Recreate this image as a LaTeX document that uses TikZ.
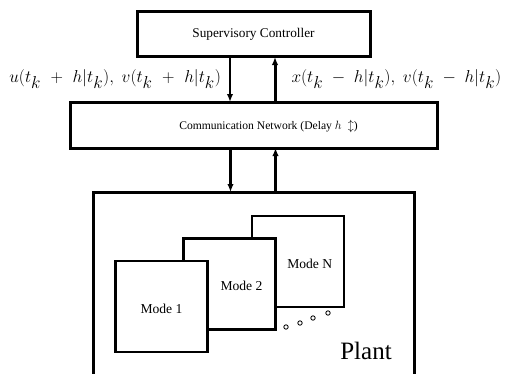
\documentclass[tikz,border=0pt]{standalone}
\usepackage{amsmath}
\usepackage{fontspec}
\setmainfont{Liberation Serif}
\usepackage{tikz}
\usetikzlibrary{arrows.meta,positioning,calc}

\newcommand{\tkk}{t_{\textstyle k}}

\begin{document}
\begin{tikzpicture}[x=1pt,y=1pt,
        blockbox/.style={draw, line width=3pt, outer sep=0pt, fill=white},
        modebox/.style={draw, line width=2.4pt, outer sep=0pt, fill=white,
            minimum width=92pt, minimum height=91pt},
        modetext/.style={font=\fontsize{13.6}{16}\selectfont, yshift=-2pt},
        siglabel/.style={font=\fontsize{16}{19}\selectfont, inner sep=0pt},
        downarrow/.style={line width=2.2pt, -{Latex[length=8pt,width=6.5pt]}},
        uparrow/.style={line width=3pt, -{Latex[length=8pt,width=6.5pt]}}]
        \useasboundingbox (0,0) rectangle (505,373);

        % Supervisory controller
        \node[blockbox,
        font=\fontsize{13.3}{16}\selectfont,
        minimum width=233pt,
        minimum height=45pt] (sup) at (253.5,338.5) {Supervisory Controller};

        % Communication network
        \node[blockbox,
        below=45pt of sup,
        minimum width=367pt,
        minimum height=46pt] (comm) {};
        \node[font=\fontsize{11.6}{14}\selectfont] (commtext) at ([xshift=15pt,yshift=-1pt]comm.center)
            {Communication Network (Delay $h\ \updownarrow$)};

        % Plant
        \node[blockbox,
        below=44pt of comm,
        minimum width=321pt,
        minimum height=184pt] (plant) {};
        \node[font=\fontsize{25}{28}\selectfont] (planttext) at (366,22) {Plant};

        % Modes
        \node[modebox] (modeN) at (298,111.5) {};
        \node[modebox] (mode2) at (229.5,89) {};
        \node[modebox] (mode1) at (161.5,66.5) {};
        \node[modetext] (mode1text) at (mode1.center) {Mode 1};
        \node[modetext] (mode2text) at ($(mode1.east|-mode2.center)!0.5!(mode2.east)$) {Mode 2};
        \node[modetext] (modeNtext) at ($(mode2.east|-modeN.center)!0.5!(modeN.east)$) {Mode N};

        % Dots between the modes
        \foreach \dx/\dy [count=\i] in {286/46, 300/50, 313/55, 328/60}
            \node[draw, circle, line width=0.8pt, minimum size=4.4pt, inner sep=0pt] (dot\i) at (\dx,\dy) {};

        % Arrows
        \coordinate (supdn) at ([xshift=-23.5pt]sup.south);
        \coordinate (supup) at ([xshift=21.5pt]sup.south);
        \coordinate (commdn) at ([xshift=-23pt]comm.south);
        \coordinate (commup) at ([xshift=22pt]comm.south);

        \draw[downarrow] (supdn) -- (supdn|-comm.north)
            node[siglabel, midway, anchor=base east, xshift=-8pt, yshift=-3pt]
            {$\medmuskip=10mu u(\tkk+h|\tkk),\; v(\tkk+h|\tkk)$};
        \draw[uparrow] (supup|-comm.north) -- (supup)
            node[siglabel, midway, anchor=base west, xshift=15pt, yshift=-3pt]
            {$\medmuskip=9mu x(\tkk-h|\tkk),\; v(\tkk-h|\tkk)$};
        \draw[downarrow] (commdn) -- (commdn|-plant.north);
        \draw[uparrow] (commup|-plant.north) -- (commup);
    \end{tikzpicture}
\end{document}
